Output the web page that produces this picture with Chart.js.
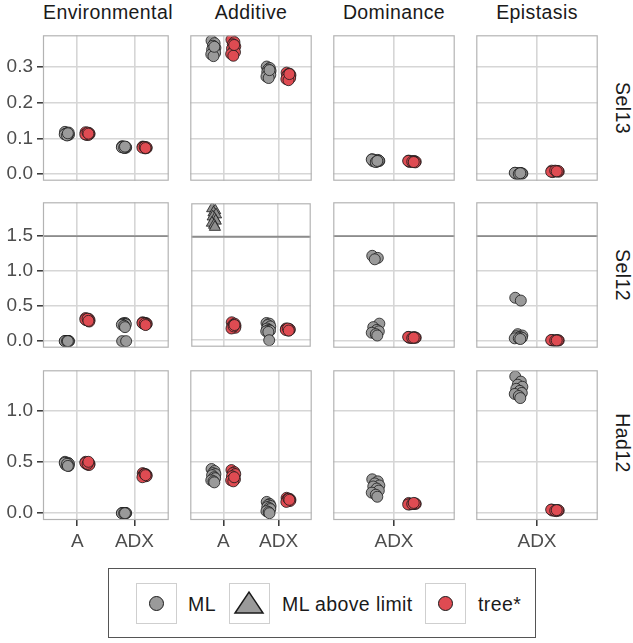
<!DOCTYPE html>
<html>
<head>
<meta charset="utf-8">
<script src="https://cdn.jsdelivr.net/npm/chart.js@4.4.1/dist/chart.umd.min.js"></script>
<style>
  html, body { margin: 0; padding: 0; background: #fff; }
  #wrap { position: relative; width: 633px; height: 643px; overflow: hidden; font-family: "Liberation Sans", Arial, sans-serif; }
  canvas.panel { position: absolute; }
  .strip-top { position: absolute; top: 0; height: 24px; line-height: 24px; text-align: center; font-size: 19.5px; letter-spacing: 0.4px; color: #1a1a1a; white-space: nowrap; }
  .strip-right { position: absolute; height: 24px; line-height: 24px; text-align: center; font-size: 19.5px; letter-spacing: 0.4px; color: #1a1a1a; transform: rotate(90deg); white-space: nowrap; }
  #legend { position: absolute; left: 108px; top: 568px; width: 428px; height: 70px; border: 1.5px solid #555; box-sizing: border-box; }
  #legend .key { position: absolute; top: 14px; width: 41px; height: 41px; border: 1.5px solid #cfcfcf; box-sizing: border-box; }
  #legend .lab { position: absolute; top: 24px; font-size: 19.5px; letter-spacing: 0.4px; line-height: 22px; color: #1a1a1a; white-space: nowrap; }
  #legend .dot { position: absolute; left: 12px; top: 12px; width: 15px; height: 15px; border-radius: 50%; border: 1.3px solid #1a1a1a; box-sizing: border-box; }
</style>
</head>
<body>
<div id="wrap"></div>
<script>
// --- facets and scales ---
const ROWS = ['Sel13', 'Sel12', 'Had12'];
const COLS = ['Environmental', 'Additive', 'Dominance', 'Epistasis'];
const COL_CATS = [['A', 'ADX'], ['A', 'ADX'], ['ADX'], ['ADX']];
const Y_TICKS = [[0, 0.1, 0.2, 0.3], [0, 0.5, 1.0, 1.5], [0, 0.5, 1.0]];
const Y_RANGE = [[-0.018, 0.387], [-0.094, 1.985], [-0.066, 1.39]];
const LIMIT_VALUE = 1.5;
const LIMIT_ROWS = ['Sel12'];

// slot order used by every series array below
const SLOTS = [
    ['Environmental', 'A'], ['Environmental', 'ADX'],
    ['Additive', 'A'], ['Additive', 'ADX'],
    ['Dominance', 'ADX'], ['Epistasis', 'ADX']
];

// --- Sel13 ---
const SEL13_ML = [
    [0.118, 0.115, 0.113, 0.110, 0.112, 0.109, 0.116, 0.111, 0.108, 0.114],
    [0.078, 0.076, 0.075, 0.074, 0.077, 0.073, 0.076, 0.075, 0.074, 0.077],
    [0.372, 0.365, 0.358, 0.352, 0.347, 0.343, 0.338, 0.334, 0.329, 0.355],
    [0.300, 0.296, 0.292, 0.288, 0.285, 0.281, 0.277, 0.272, 0.268, 0.290],
    [0.042, 0.040, 0.039, 0.037, 0.036, 0.035, 0.038, 0.041, 0.034, 0.037],
    [0.004, 0.003, 0.002, 0.002, 0.001, 0.003, 0.002, 0.004, 0.001, 0.003]
];
const SEL13_ML_ABOVE = [[], [], [], [], [], []];
const SEL13_TREE = [
    [0.117, 0.115, 0.113, 0.112, 0.110, 0.109, 0.114, 0.111, 0.116, 0.113],
    [0.077, 0.075, 0.074, 0.073, 0.076, 0.072, 0.075, 0.074, 0.076, 0.073],
    [0.375, 0.368, 0.362, 0.356, 0.350, 0.345, 0.340, 0.335, 0.330, 0.360],
    [0.283, 0.280, 0.278, 0.276, 0.274, 0.271, 0.268, 0.265, 0.262, 0.279],
    [0.038, 0.037, 0.036, 0.035, 0.034, 0.036, 0.033, 0.037, 0.035, 0.034],
    [0.010, 0.009, 0.008, 0.007, 0.006, 0.008, 0.009, 0.007, 0.010, 0.008]
];

// --- Sel12 ---
const SEL12_ML = [
    [0, 0, 0, 0, 0, 0, 0, 0, 0, 0],
    [0.0, 0.26, 0.255, 0.0, 0.25, 0.245, 0.24, 0.235, 0.22, 0.20],
    [],
    [0.25, 0.24, 0.22, 0.20, 0.17, 0.15, 0.14, 0.13, 0.12, 0.0],
    [1.22, 1.19, 1.17, 0.25, 0.20, 0.16, 0.14, 0.12, 0.10, 0.08],
    [0.62, 0.58, 0.10, 0.08, 0.07, 0.06, 0.05, 0.04, 0.04, 0.03]
];
const SEL12_ML_ABOVE = [
    [], [],
    [1.91, 1.88, 1.85, 1.82, 1.79, 1.76, 1.73, 1.70, 1.67, 1.64],
    [], [], []
];
const SEL12_TREE = [
    [0.33, 0.32, 0.31, 0.30, 0.30, 0.29, 0.28, 0.31, 0.32, 0.29],
    [0.27, 0.26, 0.26, 0.25, 0.25, 0.24, 0.24, 0.26, 0.25, 0.23],
    [0.26, 0.24, 0.22, 0.21, 0.20, 0.19, 0.18, 0.17, 0.20, 0.22],
    [0.17, 0.16, 0.16, 0.15, 0.15, 0.14, 0.16, 0.15, 0.17, 0.14],
    [0.06, 0.055, 0.05, 0.05, 0.045, 0.055, 0.05, 0.06, 0.045, 0.05],
    [0.015, 0.012, 0.01, 0.01, 0.008, 0.012, 0.01, 0.015, 0.008, 0.01]
];

// --- Had12 ---
const HAD12_ML = [
    [0.50, 0.49, 0.48, 0.48, 0.47, 0.47, 0.46, 0.49, 0.48, 0.46],
    [0.002, 0.001, 0, 0, 0.001, 0, 0.002, 0, 0.001, 0],
    [0.43, 0.41, 0.39, 0.38, 0.37, 0.35, 0.34, 0.32, 0.31, 0.30],
    [0.11, 0.09, 0.08, 0.07, 0.06, 0.05, 0.04, 0.02, 0.01, 0.0],
    [0.33, 0.31, 0.29, 0.27, 0.26, 0.24, 0.22, 0.20, 0.18, 0.16],
    [1.33, 1.28, 1.25, 1.23, 1.21, 1.19, 1.17, 1.16, 1.14, 1.12]
];
const HAD12_ML_ABOVE = [[], [], [], [], [], []];
const HAD12_TREE = [
    [0.50, 0.49, 0.49, 0.48, 0.48, 0.47, 0.47, 0.49, 0.48, 0.50],
    [0.39, 0.38, 0.38, 0.37, 0.37, 0.36, 0.36, 0.35, 0.38, 0.37],
    [0.42, 0.40, 0.39, 0.38, 0.36, 0.34, 0.33, 0.32, 0.31, 0.35],
    [0.15, 0.14, 0.14, 0.13, 0.13, 0.12, 0.12, 0.11, 0.14, 0.13],
    [0.10, 0.095, 0.09, 0.09, 0.085, 0.09, 0.095, 0.085, 0.09, 0.10],
    [0.035, 0.03, 0.03, 0.025, 0.025, 0.02, 0.03, 0.035, 0.025, 0.03]
];

const ROW_DATA = [
    { ml: SEL13_ML, above: SEL13_ML_ABOVE, tree: SEL13_TREE },
    { ml: SEL12_ML, above: SEL12_ML_ABOVE, tree: SEL12_TREE },
    { ml: HAD12_ML, above: HAD12_ML_ABOVE, tree: HAD12_TREE }
];

// --- look ---
const DODGE = 0.18;
const JITTER = [-0.035, 0.02, -0.01, 0.035, -0.025, 0.01, 0.03, -0.04, 0.0, 0.015];
const PANEL_LEFT = [43, 186, 329, 472];
const PANEL_TOP = [31, 198, 366];
const PANEL_W = 130;
const PANEL_H = 154;
const GRID_COLOR = '#d6d6d6';
const FRAME_COLOR = '#b3b3b3';
const GREY_FILL = '#9a9a9a';
const RED_FILL = '#df4b52';
const FONT = '"Liberation Sans", Arial, sans-serif';

const wrap = document.getElementById('wrap');

// 面板外框
const panelFrame = {
    id: 'panelFrame',
    afterDraw(chart) {
        const a = chart.chartArea;
        const ctx = chart.ctx;
        ctx.save();
        ctx.strokeStyle = FRAME_COLOR;
        ctx.lineWidth = 1.2;
        ctx.strokeRect(a.left + 0.5, a.top + 0.5, a.right - a.left - 1, a.bottom - a.top - 1);
        ctx.restore();
    }
};

function toPoints(values, catPos, offset) {
    return values.map((v, i) => ({ x: catPos + offset + JITTER[i % JITTER.length], y: v }));
}

function renderPanel(r, c) {
    const cats = COL_CATS[c];
    const isLeft = c === 0;
    const isBottom = r === ROWS.length - 1;
    const mL = isLeft ? 43 : 2;
    const mB = isBottom ? 34 : 2;

    const canvas = document.createElement('canvas');
    canvas.className = 'panel';
    canvas.width = PANEL_W + mL + 2;
    canvas.height = PANEL_H + mB + 2;
    canvas.style.left = (PANEL_LEFT[c] - mL) + 'px';
    canvas.style.top = (PANEL_TOP[r] - 2) + 'px';
    wrap.appendChild(canvas);

    const rowData = ROW_DATA[r];
    let ml = [], above = [], tree = [];
    SLOTS.forEach(([col, cat], s) => {
        if (col !== COLS[c]) return;
        const pos = cats.indexOf(cat) + 1;
        ml = ml.concat(toPoints(rowData.ml[s], pos, -DODGE));
        above = above.concat(toPoints(rowData.above[s], pos, -DODGE));
        tree = tree.concat(toPoints(rowData.tree[s], pos, DODGE));
    });

    const xMin = 0.4, xMax = cats.length + 0.6;
    const datasets = [
        { label: 'ML', data: ml, pointStyle: 'circle', pointRadius: 5.5,
          backgroundColor: GREY_FILL, borderColor: '#1a1a1a', borderWidth: 0.8, order: 1 },
        { label: 'ML above limit', data: above, pointStyle: 'triangle', pointRadius: 6.5,
          backgroundColor: '#8f8f8f', borderColor: '#1a1a1a', borderWidth: 0.8, order: 1 },
        { label: 'tree*', data: tree, pointStyle: 'circle', pointRadius: 5.5,
          backgroundColor: RED_FILL, borderColor: '#1a1a1a', borderWidth: 0.8, order: 0 }
    ];
    if (LIMIT_ROWS.includes(ROWS[r])) {
        datasets.push({
            type: 'line', label: 'limit', data: [{ x: xMin, y: LIMIT_VALUE }, { x: xMax, y: LIMIT_VALUE }],
            borderColor: '#8c8c8c', borderWidth: 1.8, pointRadius: 0, order: 5
        });
    }

    return new Chart(canvas.getContext('2d'), {
        type: 'scatter',
        data: { datasets },
        options: {
            responsive: false, animation: false, devicePixelRatio: 1,
            layout: { padding: { left: isLeft ? 0 : 2, right: 2, top: 2, bottom: isBottom ? 0 : 2 } },
            plugins: { legend: { display: false }, tooltip: { enabled: false } },
            scales: {
                x: {
                    type: 'linear', min: xMin, max: xMax,
                    afterBuildTicks: s => { s.ticks = cats.map((_, i) => ({ value: i + 1 })); },
                    afterFit: s => {
                        s.height = isBottom ? 34 : 0;
                        s.paddingLeft = 0; s.paddingRight = 0; s.paddingTop = 0; s.paddingBottom = 0;
                    },
                    border: { display: false },
                    grid: { color: GRID_COLOR, lineWidth: 1.6, drawTicks: isBottom, tickLength: 6, tickColor: '#333', tickWidth: 1.5 },
                    ticks: { display: isBottom, autoSkip: false, maxRotation: 0, padding: 4,
                             color: '#4d4d4d', font: { family: FONT, size: 19 },
                             callback: (v, i) => cats[i] }
                },
                y: {
                    type: 'linear', min: Y_RANGE[r][0], max: Y_RANGE[r][1],
                    afterBuildTicks: s => { s.ticks = Y_TICKS[r].map(v => ({ value: v })); },
                    afterFit: s => {
                        s.width = isLeft ? 43 : 0;
                        s.paddingLeft = 0; s.paddingRight = 0; s.paddingTop = 0; s.paddingBottom = 0;
                    },
                    border: { display: false },
                    grid: { color: GRID_COLOR, lineWidth: 1.6, drawTicks: isLeft, tickLength: 6, tickColor: '#333', tickWidth: 1.5 },
                    ticks: { display: isLeft, padding: 4, color: '#4d4d4d', font: { family: FONT, size: 19 },
                             callback: v => Number(v).toFixed(1) }
                }
            }
        },
        plugins: [panelFrame]
    });
}

ROWS.forEach((_, r) => COLS.forEach((_, c) => renderPanel(r, c)));

// strips
COLS.forEach((name, c) => {
    const d = document.createElement('div');
    d.className = 'strip-top';
    d.style.left = (PANEL_LEFT[c] - 10) + 'px';
    d.style.width = (PANEL_W + 20) + 'px';
    d.textContent = name;
    wrap.appendChild(d);
});
ROWS.forEach((name, r) => {
    const d = document.createElement('div');
    d.className = 'strip-right';
    d.style.width = PANEL_H + 'px';
    d.style.left = (623 - PANEL_H / 2) + 'px';
    d.style.top = (PANEL_TOP[r] + PANEL_H / 2 - 12) + 'px';
    d.textContent = name;
    wrap.appendChild(d);
});

// legend
const legend = document.createElement('div');
legend.id = 'legend';
legend.innerHTML =
    '<div class="key" style="left:27px"><span class="dot" style="background:' + GREY_FILL + '"></span></div>' +
    '<span class="lab" style="left:79px">ML</span>' +
    '<div class="key" style="left:120px"><svg width="38" height="38" style="position:absolute;left:0;top:0">' +
    '<polygon points="5,29 33,29 19,8" fill="' + GREY_FILL + '" stroke="#1a1a1a" stroke-width="1.5" stroke-linejoin="miter"/></svg></div>' +
    '<span class="lab" style="left:173px">ML above limit</span>' +
    '<div class="key" style="left:316px"><span class="dot" style="background:' + RED_FILL + '"></span></div>' +
    '<span class="lab" style="left:369px">tree*</span>';
wrap.appendChild(legend);
</script>
</body>
</html>
